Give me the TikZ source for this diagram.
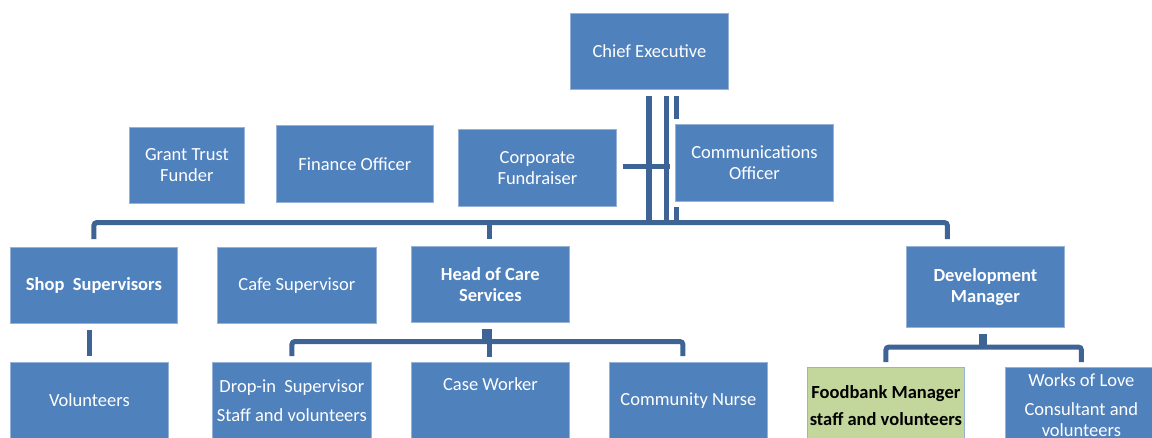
\documentclass[tikz,border=0pt]{standalone}
\usepackage{fontspec}
\setmainfont{Carlito}
\usetikzlibrary{calc}
\definecolor{boxfill}{RGB}{79,129,189}
\definecolor{boxline}{RGB}{150,178,214}
\definecolor{connline}{RGB}{62,100,150}
\definecolor{foodfill}{RGB}{195,214,155}
\tikzset{
  box/.style={draw=boxline, line width=0.8pt, fill=boxfill, text=white,
    font=\fontsize{18.5}{21}\selectfont, align=center, inner sep=0pt, anchor=north west},
  boldbox/.style={box, font=\fontsize{18.5}{21}\selectfont\bfseries},
  conn/.style={draw=connline, line width=5pt, rounded corners=3pt},
}
\begin{document}
\begin{tikzpicture}[x=1pt,y=-1pt]
\useasboundingbox (0,0) rectangle (1152,437);
\clip (0,0) rectangle (1152,437);
% top
\node[box, minimum width=158, minimum height=76] (ce) at (570,13) {Chief Executive};
\node[box, minimum width=115, minimum height=76] (gtf) at (129,127) {Grant Trust\\Funder};
\node[box, minimum width=157, minimum height=77] (fin) at (276,125) {Finance Officer};
\node[box, minimum width=158, minimum height=77] (cf) at (458,129) {Corporate\\Fundraiser};
\node[box, minimum width=158, minimum height=77] (co) at (675,124) {Communications\\Officer};
% middle
\node[boldbox, minimum width=167, minimum height=76] (shop) at (10,247) {Shop\ \ Supervisors};
\node[box, minimum width=159, minimum height=76] (cafe) at (217,247) {Cafe Supervisor};
\node[boldbox, minimum width=158, minimum height=76] (hoc) at (411,246) {Head of Care\\Services};
\node[boldbox, minimum width=158, minimum height=81] (dev) at (906,246) {Development\\Manager};
% bottom
\node[box, minimum width=158, minimum height=76] (vol) at (10,362) {Volunteers};
\node[box, minimum width=159, minimum height=76] (drop) at (212,362) {Drop-in\ \ Supervisor\\[8pt]Staff and volunteers};
\node[box, minimum width=158, minimum height=76, text height=13pt, text depth=33pt] (case) at (411,362) {Case Worker};
\node[box, minimum width=158, minimum height=76] (nurse) at (609,362) {Community Nurse};
\node[boldbox, fill=foodfill, text=black, minimum width=157, minimum height=76] (food) at (807,367) {Foodbank Manager\\[6pt]staff and volunteers};
\node[box, minimum width=152, minimum height=76] (wol) at (1005,367) {Works of Love\\[8pt]Consultant and\\volunteers};
% connectors from chief executive
\coordinate (bus) at ($(ce.south)+(0,133.5)$);
\draw[conn, line width=6pt, rounded corners=0pt] ($(ce.south)+(0,6)$) -- ($(ce.south |- bus)+(0,2)$);
\draw[conn, rounded corners=0pt] ($(ce.south)+(17,6)$) -- ($(ce.south |- bus)+(17,2)$);
\draw[conn, rounded corners=0pt] ($(ce.south)+(27,6)$) -- ($(ce.south)+(27,29)$);
\draw[conn, rounded corners=0pt] ($(co.south west)+(1,5)$) -- ($(co.south west |- bus)+(1,2)$);
\draw[conn, rounded corners=0pt] ($(cf.east)+(6,-1.5)$) -- ($(cf.east)+(53,-1.5)$);
% main bus
\draw[conn] ($(shop.north)+(0,-8)$) |- ($(dev.north)+(-38,-23.5)$) -- ($(dev.north)+(-38,-7)$);
\draw[conn, rounded corners=0pt] ($(hoc.north)+(-0.5,-7)$) -- ($(hoc.north)+(-0.5,-23.5)$);
% shop to volunteers
\draw[conn, rounded corners=0pt] ($(shop.south -| vol.north)+(0,6)$) -- ($(vol.north)+(0,-6)$);
% head of care tree
\draw[conn, line width=10pt, rounded corners=0pt] ($(hoc.south)+(-3,6)$) -- ($(hoc.south)+(-3,19)$);
\draw[conn] ($(drop.north)+(0,-6)$) |- ($(nurse.north)+(-5.5,-20.5)$) -- ($(nurse.north)+(-5.5,-6)$);
\draw[conn, rounded corners=0pt] ($(case.north)+(-0.5,-23)$) -- ($(case.north)+(-0.5,-5)$);
% development tree
\draw[conn, line width=8pt, rounded corners=0pt] ($(dev.south)+(-2,6)$) -- ($(dev.south)+(-2,19)$);
\draw[conn] ($(food.north)+(0,-5)$) |- ($(wol.north)+(0,-20)$) -- ($(wol.north)+(0,-5)$);
\end{tikzpicture}
\end{document}
